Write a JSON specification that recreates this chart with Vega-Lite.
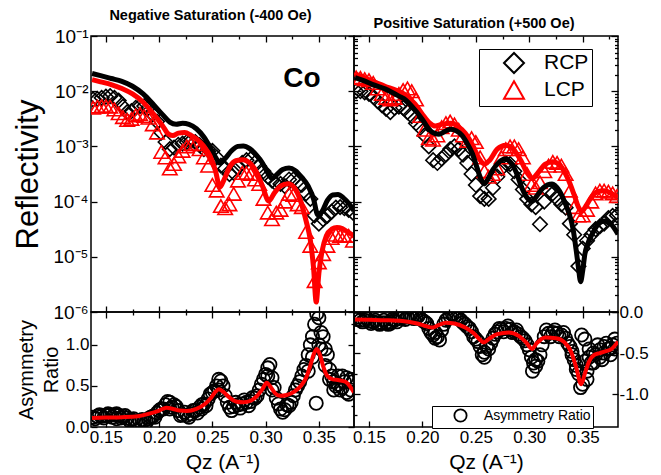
{
"$schema":"https://vega.github.io/schema/vega-lite/v6.json",
"padding":{"left":11,"top":6,"right":5,"bottom":5},
"columns":2,"spacing":0,"bounds":"flush","align":"each",
"resolve":{"scale":{"shape":"independent","stroke":"independent"},"legend":{"shape":"independent","stroke":"independent"}},
"config":{
 "font":"Liberation Sans",
 "view":{"stroke":"black","strokeWidth":1.5},
 "axis":{"domain":false,"grid":false,"tickColor":"black","tickWidth":1.3,"labelColor":"black","titleColor":"black","titleFontWeight":"normal","labelFlush":false,"labelOverlap":false,"labelBound":false},
 "title":{"color":"black"},
 "legend":{"labelColor":"black"}
},
"datasets":{
 "co":[{"q":0.334,"r":0.0166,"t":"Co"}],
 "tl_pts":[
{"q":0.138,"pol":"RCP","r":7.08e-3},{"q":0.142,"pol":"RCP","r":7.24e-3},{"q":0.146,"pol":"RCP","r":7.59e-3},{"q":0.150,"pol":"RCP","r":7.94e-3},{"q":0.154,"pol":"RCP","r":8.13e-3},{"q":0.158,"pol":"RCP","r":7.59e-3},{"q":0.162,"pol":"RCP","r":6.76e-3},{"q":0.166,"pol":"RCP","r":5.25e-3},{"q":0.170,"pol":"RCP","r":4.17e-3},{"q":0.174,"pol":"RCP","r":4.37e-3},{"q":0.178,"pol":"RCP","r":5.01e-3},{"q":0.182,"pol":"RCP","r":5.37e-3},{"q":0.186,"pol":"RCP","r":5.37e-3},{"q":0.190,"pol":"RCP","r":5.01e-3},{"q":0.194,"pol":"RCP","r":3.80e-3},{"q":0.198,"pol":"RCP","r":2.82e-3},{"q":0.202,"pol":"RCP","r":1.78e-3},{"q":0.206,"pol":"RCP","r":1.20e-3},{"q":0.210,"pol":"RCP","r":8.91e-4},{"q":0.214,"pol":"RCP","r":9.55e-4},{"q":0.218,"pol":"RCP","r":1.07e-3},{"q":0.222,"pol":"RCP","r":1.12e-3},{"q":0.226,"pol":"RCP","r":1.20e-3},{"q":0.230,"pol":"RCP","r":1.26e-3},{"q":0.234,"pol":"RCP","r":1.20e-3},{"q":0.238,"pol":"RCP","r":1.05e-3},{"q":0.242,"pol":"RCP","r":8.91e-4},{"q":0.246,"pol":"RCP","r":8.91e-4},{"q":0.250,"pol":"RCP","r":8.32e-4},{"q":0.254,"pol":"RCP","r":6.31e-4},{"q":0.258,"pol":"RCP","r":4.47e-4},{"q":0.262,"pol":"RCP","r":3.98e-4},{"q":0.266,"pol":"RCP","r":3.16e-4},{"q":0.270,"pol":"RCP","r":3.31e-4},{"q":0.274,"pol":"RCP","r":4.17e-4},{"q":0.278,"pol":"RCP","r":5.01e-4},{"q":0.282,"pol":"RCP","r":5.62e-4},{"q":0.286,"pol":"RCP","r":5.89e-4},{"q":0.290,"pol":"RCP","r":5.01e-4},{"q":0.294,"pol":"RCP","r":4.37e-4},{"q":0.298,"pol":"RCP","r":3.55e-4},{"q":0.302,"pol":"RCP","r":2.82e-4},{"q":0.306,"pol":"RCP","r":2.40e-4},{"q":0.310,"pol":"RCP","r":2.09e-4},{"q":0.314,"pol":"RCP","r":2.09e-4},{"q":0.318,"pol":"RCP","r":1.91e-4},{"q":0.322,"pol":"RCP","r":2.51e-4},{"q":0.326,"pol":"RCP","r":2.51e-4},{"q":0.330,"pol":"RCP","r":2.34e-4},{"q":0.334,"pol":"RCP","r":2.00e-4},{"q":0.338,"pol":"RCP","r":1.41e-4},{"q":0.342,"pol":"RCP","r":1.12e-4},{"q":0.346,"pol":"RCP","r":5.62e-5},{"q":0.350,"pol":"RCP","r":3.98e-5},{"q":0.354,"pol":"RCP","r":4.79e-5},{"q":0.358,"pol":"RCP","r":5.50e-5},{"q":0.362,"pol":"RCP","r":6.61e-5},{"q":0.366,"pol":"RCP","r":7.76e-5},{"q":0.370,"pol":"RCP","r":7.94e-5},{"q":0.374,"pol":"RCP","r":7.59e-5},{"q":0.378,"pol":"RCP","r":7.08e-5},{"q":0.382,"pol":"RCP","r":6.31e-5},
{"q":0.138,"pol":"LCP","r":5.01e-3},{"q":0.142,"pol":"LCP","r":5.25e-3},{"q":0.146,"pol":"LCP","r":5.37e-3},{"q":0.150,"pol":"LCP","r":5.37e-3},{"q":0.154,"pol":"LCP","r":5.25e-3},{"q":0.158,"pol":"LCP","r":4.68e-3},{"q":0.162,"pol":"LCP","r":3.98e-3},{"q":0.166,"pol":"LCP","r":3.39e-3},{"q":0.170,"pol":"LCP","r":3.02e-3},{"q":0.174,"pol":"LCP","r":3.16e-3},{"q":0.178,"pol":"LCP","r":3.63e-3},{"q":0.182,"pol":"LCP","r":3.89e-3},{"q":0.186,"pol":"LCP","r":3.55e-3},{"q":0.190,"pol":"LCP","r":3.31e-3},{"q":0.194,"pol":"LCP","r":2.51e-3},{"q":0.198,"pol":"LCP","r":1.78e-3},{"q":0.202,"pol":"LCP","r":7.94e-4},{"q":0.206,"pol":"LCP","r":6.31e-4},{"q":0.210,"pol":"LCP","r":3.98e-4},{"q":0.214,"pol":"LCP","r":4.79e-4},{"q":0.218,"pol":"LCP","r":6.61e-4},{"q":0.222,"pol":"LCP","r":8.32e-4},{"q":0.226,"pol":"LCP","r":1.00e-3},{"q":0.230,"pol":"LCP","r":1.10e-3},{"q":0.234,"pol":"LCP","r":1.10e-3},{"q":0.238,"pol":"LCP","r":8.91e-4},{"q":0.242,"pol":"LCP","r":6.31e-4},{"q":0.246,"pol":"LCP","r":4.47e-4},{"q":0.250,"pol":"LCP","r":2.00e-4},{"q":0.254,"pol":"LCP","r":1.58e-4},{"q":0.258,"pol":"LCP","r":8.32e-5},{"q":0.262,"pol":"LCP","r":7.59e-5},{"q":0.266,"pol":"LCP","r":8.91e-5},{"q":0.270,"pol":"LCP","r":1.38e-4},{"q":0.274,"pol":"LCP","r":2.40e-4},{"q":0.278,"pol":"LCP","r":3.31e-4},{"q":0.282,"pol":"LCP","r":3.31e-4},{"q":0.286,"pol":"LCP","r":3.16e-4},{"q":0.290,"pol":"LCP","r":2.51e-4},{"q":0.294,"pol":"LCP","r":2.09e-4},{"q":0.298,"pol":"LCP","r":1.12e-4},{"q":0.302,"pol":"LCP","r":6.31e-5},{"q":0.306,"pol":"LCP","r":4.79e-5},{"q":0.310,"pol":"LCP","r":6.31e-5},{"q":0.314,"pol":"LCP","r":7.08e-5},{"q":0.318,"pol":"LCP","r":1.00e-4},{"q":0.322,"pol":"LCP","r":1.38e-4},{"q":0.326,"pol":"LCP","r":1.32e-4},{"q":0.330,"pol":"LCP","r":8.91e-5},{"q":0.334,"pol":"LCP","r":7.94e-5},{"q":0.338,"pol":"LCP","r":2.82e-5},{"q":0.342,"pol":"LCP","r":1.58e-5},{"q":0.346,"pol":"LCP","r":3.63e-6},{"q":0.350,"pol":"LCP","r":7.94e-6},{"q":0.354,"pol":"LCP","r":1.12e-5},{"q":0.358,"pol":"LCP","r":1.58e-5},{"q":0.362,"pol":"LCP","r":2.19e-5},{"q":0.366,"pol":"LCP","r":2.51e-5},{"q":0.370,"pol":"LCP","r":2.40e-5},{"q":0.374,"pol":"LCP","r":2.40e-5},{"q":0.378,"pol":"LCP","r":2.40e-5},{"q":0.382,"pol":"LCP","r":1.95e-5}
 ],
 "tl_fit":[
{"q":0.137,"pol":"RCP","r":2.09e-2},{"q":0.145,"pol":"RCP","r":1.91e-2},{"q":0.155,"pol":"RCP","r":1.70e-2},{"q":0.165,"pol":"RCP","r":1.51e-2},{"q":0.175,"pol":"RCP","r":1.23e-2},{"q":0.185,"pol":"RCP","r":8.91e-3},{"q":0.195,"pol":"RCP","r":5.62e-3},{"q":0.203,"pol":"RCP","r":3.80e-3},{"q":0.210,"pol":"RCP","r":2.75e-3},{"q":0.216,"pol":"RCP","r":2.51e-3},{"q":0.222,"pol":"RCP","r":2.63e-3},{"q":0.228,"pol":"RCP","r":2.51e-3},{"q":0.235,"pol":"RCP","r":2.09e-3},{"q":0.242,"pol":"RCP","r":1.48e-3},{"q":0.248,"pol":"RCP","r":9.55e-4},{"q":0.253,"pol":"RCP","r":6.31e-4},{"q":0.257,"pol":"RCP","r":5.01e-4},{"q":0.262,"pol":"RCP","r":6.03e-4},{"q":0.268,"pol":"RCP","r":8.32e-4},{"q":0.274,"pol":"RCP","r":1.00e-3},{"q":0.279,"pol":"RCP","r":1.02e-3},{"q":0.285,"pol":"RCP","r":9.12e-4},{"q":0.291,"pol":"RCP","r":7.08e-4},{"q":0.297,"pol":"RCP","r":5.01e-4},{"q":0.302,"pol":"RCP","r":3.31e-4},{"q":0.306,"pol":"RCP","r":2.63e-4},{"q":0.310,"pol":"RCP","r":3.02e-4},{"q":0.316,"pol":"RCP","r":3.80e-4},{"q":0.322,"pol":"RCP","r":4.07e-4},{"q":0.328,"pol":"RCP","r":3.63e-4},{"q":0.334,"pol":"RCP","r":2.75e-4},{"q":0.340,"pol":"RCP","r":1.91e-4},{"q":0.345,"pol":"RCP","r":1.12e-4},{"q":0.349,"pol":"RCP","r":5.75e-5},{"q":0.353,"pol":"RCP","r":6.61e-5},{"q":0.358,"pol":"RCP","r":1.05e-4},{"q":0.363,"pol":"RCP","r":1.32e-4},{"q":0.368,"pol":"RCP","r":1.35e-4},{"q":0.373,"pol":"RCP","r":1.17e-4},{"q":0.378,"pol":"RCP","r":9.33e-5},{"q":0.383,"pol":"RCP","r":6.76e-5},
{"q":0.137,"pol":"LCP","r":1.62e-2},{"q":0.145,"pol":"LCP","r":1.48e-2},{"q":0.155,"pol":"LCP","r":1.32e-2},{"q":0.165,"pol":"LCP","r":1.12e-2},{"q":0.175,"pol":"LCP","r":8.91e-3},{"q":0.185,"pol":"LCP","r":6.31e-3},{"q":0.195,"pol":"LCP","r":3.80e-3},{"q":0.203,"pol":"LCP","r":2.40e-3},{"q":0.209,"pol":"LCP","r":1.66e-3},{"q":0.213,"pol":"LCP","r":1.58e-3},{"q":0.218,"pol":"LCP","r":1.74e-3},{"q":0.224,"pol":"LCP","r":1.78e-3},{"q":0.230,"pol":"LCP","r":1.58e-3},{"q":0.236,"pol":"LCP","r":1.32e-3},{"q":0.242,"pol":"LCP","r":1.00e-3},{"q":0.248,"pol":"LCP","r":6.61e-4},{"q":0.253,"pol":"LCP","r":3.55e-4},{"q":0.257,"pol":"LCP","r":1.82e-4},{"q":0.261,"pol":"LCP","r":2.51e-4},{"q":0.266,"pol":"LCP","r":4.17e-4},{"q":0.272,"pol":"LCP","r":5.50e-4},{"q":0.279,"pol":"LCP","r":5.75e-4},{"q":0.285,"pol":"LCP","r":5.01e-4},{"q":0.291,"pol":"LCP","r":3.55e-4},{"q":0.297,"pol":"LCP","r":1.91e-4},{"q":0.303,"pol":"LCP","r":1.02e-4},{"q":0.308,"pol":"LCP","r":1.41e-4},{"q":0.314,"pol":"LCP","r":1.91e-4},{"q":0.321,"pol":"LCP","r":2.11e-4},{"q":0.327,"pol":"LCP","r":1.78e-4},{"q":0.333,"pol":"LCP","r":1.00e-4},{"q":0.338,"pol":"LCP","r":4.47e-5},{"q":0.342,"pol":"LCP","r":2.00e-5},{"q":0.345,"pol":"LCP","r":6.31e-6},{"q":0.3475,"pol":"LCP","r":1.51e-6},{"q":0.350,"pol":"LCP","r":5.01e-6},{"q":0.353,"pol":"LCP","r":1.26e-5},{"q":0.357,"pol":"LCP","r":2.40e-5},{"q":0.362,"pol":"LCP","r":3.16e-5},{"q":0.367,"pol":"LCP","r":3.39e-5},{"q":0.372,"pol":"LCP","r":3.24e-5},{"q":0.377,"pol":"LCP","r":2.82e-5},{"q":0.383,"pol":"LCP","r":2.40e-5}
 ],
 "tr_pts":[
{"q":0.138,"pol":"RCP","r":1.00e-2},{"q":0.142,"pol":"RCP","r":1.00e-2},{"q":0.146,"pol":"RCP","r":9.55e-3},{"q":0.150,"pol":"RCP","r":8.91e-3},{"q":0.154,"pol":"RCP","r":7.94e-3},{"q":0.158,"pol":"RCP","r":6.61e-3},{"q":0.162,"pol":"RCP","r":5.62e-3},{"q":0.166,"pol":"RCP","r":4.79e-3},{"q":0.170,"pol":"RCP","r":4.17e-3},{"q":0.174,"pol":"RCP","r":5.01e-3},{"q":0.178,"pol":"RCP","r":5.25e-3},{"q":0.182,"pol":"RCP","r":5.01e-3},{"q":0.186,"pol":"RCP","r":4.17e-3},{"q":0.190,"pol":"RCP","r":3.55e-3},{"q":0.194,"pol":"RCP","r":2.63e-3},{"q":0.198,"pol":"RCP","r":2.19e-3},{"q":0.202,"pol":"RCP","r":1.58e-3},{"q":0.206,"pol":"RCP","r":1.00e-3},{"q":0.210,"pol":"RCP","r":5.62e-4},{"q":0.214,"pol":"RCP","r":5.01e-4},{"q":0.218,"pol":"RCP","r":6.03e-4},{"q":0.222,"pol":"RCP","r":7.08e-4},{"q":0.226,"pol":"RCP","r":8.91e-4},{"q":0.230,"pol":"RCP","r":1.00e-3},{"q":0.234,"pol":"RCP","r":8.91e-4},{"q":0.238,"pol":"RCP","r":7.08e-4},{"q":0.242,"pol":"RCP","r":5.01e-4},{"q":0.246,"pol":"RCP","r":3.16e-4},{"q":0.250,"pol":"RCP","r":2.00e-4},{"q":0.254,"pol":"RCP","r":1.26e-4},{"q":0.258,"pol":"RCP","r":1.12e-4},{"q":0.262,"pol":"RCP","r":1.12e-4},{"q":0.266,"pol":"RCP","r":1.78e-4},{"q":0.270,"pol":"RCP","r":2.82e-4},{"q":0.274,"pol":"RCP","r":3.98e-4},{"q":0.278,"pol":"RCP","r":5.01e-4},{"q":0.282,"pol":"RCP","r":4.79e-4},{"q":0.286,"pol":"RCP","r":3.55e-4},{"q":0.290,"pol":"RCP","r":2.51e-4},{"q":0.294,"pol":"RCP","r":1.66e-4},{"q":0.298,"pol":"RCP","r":1.12e-4},{"q":0.302,"pol":"RCP","r":8.91e-5},{"q":0.306,"pol":"RCP","r":7.94e-5},{"q":0.310,"pol":"RCP","r":3.89e-5},{"q":0.314,"pol":"RCP","r":1.00e-4},{"q":0.318,"pol":"RCP","r":1.55e-4},{"q":0.322,"pol":"RCP","r":1.41e-4},{"q":0.326,"pol":"RCP","r":1.12e-4},{"q":0.330,"pol":"RCP","r":8.91e-5},{"q":0.334,"pol":"RCP","r":7.76e-5},{"q":0.338,"pol":"RCP","r":3.98e-5},{"q":0.342,"pol":"RCP","r":2.51e-5},{"q":0.346,"pol":"RCP","r":6.76e-6},{"q":0.350,"pol":"RCP","r":1.41e-5},{"q":0.354,"pol":"RCP","r":1.95e-5},{"q":0.358,"pol":"RCP","r":2.51e-5},{"q":0.362,"pol":"RCP","r":3.16e-5},{"q":0.366,"pol":"RCP","r":3.55e-5},{"q":0.370,"pol":"RCP","r":3.98e-5},{"q":0.374,"pol":"RCP","r":5.01e-5},{"q":0.378,"pol":"RCP","r":5.50e-5},{"q":0.382,"pol":"RCP","r":5.62e-5},
{"q":0.138,"pol":"LCP","r":1.78e-2},{"q":0.142,"pol":"LCP","r":1.74e-2},{"q":0.146,"pol":"LCP","r":1.66e-2},{"q":0.150,"pol":"LCP","r":1.58e-2},{"q":0.154,"pol":"LCP","r":1.41e-2},{"q":0.158,"pol":"LCP","r":1.12e-2},{"q":0.162,"pol":"LCP","r":8.91e-3},{"q":0.166,"pol":"LCP","r":7.59e-3},{"q":0.170,"pol":"LCP","r":7.08e-3},{"q":0.174,"pol":"LCP","r":7.59e-3},{"q":0.178,"pol":"LCP","r":8.91e-3},{"q":0.182,"pol":"LCP","r":1.05e-2},{"q":0.186,"pol":"LCP","r":1.12e-2},{"q":0.190,"pol":"LCP","r":1.00e-2},{"q":0.194,"pol":"LCP","r":7.08e-3},{"q":0.198,"pol":"LCP","r":3.55e-3},{"q":0.202,"pol":"LCP","r":2.00e-3},{"q":0.206,"pol":"LCP","r":1.41e-3},{"q":0.210,"pol":"LCP","r":1.32e-3},{"q":0.214,"pol":"LCP","r":1.58e-3},{"q":0.218,"pol":"LCP","r":2.24e-3},{"q":0.222,"pol":"LCP","r":2.63e-3},{"q":0.226,"pol":"LCP","r":2.82e-3},{"q":0.230,"pol":"LCP","r":2.51e-3},{"q":0.234,"pol":"LCP","r":2.00e-3},{"q":0.238,"pol":"LCP","r":1.58e-3},{"q":0.242,"pol":"LCP","r":1.26e-3},{"q":0.246,"pol":"LCP","r":1.41e-3},{"q":0.250,"pol":"LCP","r":1.20e-3},{"q":0.254,"pol":"LCP","r":6.31e-4},{"q":0.258,"pol":"LCP","r":3.55e-4},{"q":0.262,"pol":"LCP","r":2.82e-4},{"q":0.266,"pol":"LCP","r":3.16e-4},{"q":0.270,"pol":"LCP","r":3.98e-4},{"q":0.274,"pol":"LCP","r":6.31e-4},{"q":0.278,"pol":"LCP","r":8.91e-4},{"q":0.282,"pol":"LCP","r":1.00e-3},{"q":0.286,"pol":"LCP","r":1.00e-3},{"q":0.290,"pol":"LCP","r":8.91e-4},{"q":0.294,"pol":"LCP","r":6.31e-4},{"q":0.298,"pol":"LCP","r":3.16e-4},{"q":0.302,"pol":"LCP","r":2.00e-4},{"q":0.306,"pol":"LCP","r":1.78e-4},{"q":0.310,"pol":"LCP","r":2.24e-4},{"q":0.314,"pol":"LCP","r":3.55e-4},{"q":0.318,"pol":"LCP","r":4.47e-4},{"q":0.322,"pol":"LCP","r":5.25e-4},{"q":0.326,"pol":"LCP","r":5.01e-4},{"q":0.330,"pol":"LCP","r":4.47e-4},{"q":0.334,"pol":"LCP","r":3.16e-4},{"q":0.338,"pol":"LCP","r":1.58e-4},{"q":0.342,"pol":"LCP","r":7.94e-5},{"q":0.346,"pol":"LCP","r":5.62e-5},{"q":0.350,"pol":"LCP","r":5.62e-5},{"q":0.354,"pol":"LCP","r":7.08e-5},{"q":0.358,"pol":"LCP","r":1.00e-4},{"q":0.362,"pol":"LCP","r":1.41e-4},{"q":0.366,"pol":"LCP","r":1.58e-4},{"q":0.370,"pol":"LCP","r":1.58e-4},{"q":0.374,"pol":"LCP","r":1.51e-4},{"q":0.378,"pol":"LCP","r":1.41e-4},{"q":0.382,"pol":"LCP","r":1.26e-4}
 ],
 "tr_fit":[
{"q":0.137,"pol":"RCP","r":1.76e-2},{"q":0.145,"pol":"RCP","r":1.55e-2},{"q":0.153,"pol":"RCP","r":1.33e-2},{"q":0.165,"pol":"RCP","r":1.10e-2},{"q":0.178,"pol":"RCP","r":8.13e-3},{"q":0.185,"pol":"RCP","r":6.76e-3},{"q":0.190,"pol":"RCP","r":5.37e-3},{"q":0.1996,"pol":"RCP","r":3.16e-3},{"q":0.205,"pol":"RCP","r":2.19e-3},{"q":0.209,"pol":"RCP","r":1.82e-3},{"q":0.2155,"pol":"RCP","r":1.66e-3},{"q":0.221,"pol":"RCP","r":1.86e-3},{"q":0.226,"pol":"RCP","r":2.04e-3},{"q":0.232,"pol":"RCP","r":1.91e-3},{"q":0.237,"pol":"RCP","r":1.58e-3},{"q":0.242,"pol":"RCP","r":1.12e-3},{"q":0.2465,"pol":"RCP","r":7.59e-4},{"q":0.251,"pol":"RCP","r":4.17e-4},{"q":0.2545,"pol":"RCP","r":2.63e-4},{"q":0.258,"pol":"RCP","r":2.09e-4},{"q":0.261,"pol":"RCP","r":2.51e-4},{"q":0.266,"pol":"RCP","r":3.80e-4},{"q":0.271,"pol":"RCP","r":5.01e-4},{"q":0.277,"pol":"RCP","r":5.89e-4},{"q":0.283,"pol":"RCP","r":5.01e-4},{"q":0.288,"pol":"RCP","r":3.31e-4},{"q":0.293,"pol":"RCP","r":1.78e-4},{"q":0.298,"pol":"RCP","r":1.17e-4},{"q":0.3026,"pol":"RCP","r":1.02e-4},{"q":0.307,"pol":"RCP","r":1.26e-4},{"q":0.313,"pol":"RCP","r":1.78e-4},{"q":0.3213,"pol":"RCP","r":2.09e-4},{"q":0.328,"pol":"RCP","r":1.58e-4},{"q":0.334,"pol":"RCP","r":8.91e-5},{"q":0.3373,"pol":"RCP","r":6.03e-5},{"q":0.341,"pol":"RCP","r":3.16e-5},{"q":0.344,"pol":"RCP","r":1.26e-5},{"q":0.346,"pol":"RCP","r":6.31e-6},{"q":0.348,"pol":"RCP","r":3.55e-6},{"q":0.350,"pol":"RCP","r":5.62e-6},{"q":0.352,"pol":"RCP","r":1.12e-5},{"q":0.355,"pol":"RCP","r":1.78e-5},{"q":0.3588,"pol":"RCP","r":2.57e-5},{"q":0.364,"pol":"RCP","r":3.80e-5},{"q":0.370,"pol":"RCP","r":4.47e-5},{"q":0.376,"pol":"RCP","r":3.98e-5},{"q":0.383,"pol":"RCP","r":2.57e-5},
{"q":0.137,"pol":"LCP","r":2.04e-2},{"q":0.145,"pol":"LCP","r":1.78e-2},{"q":0.153,"pol":"LCP","r":1.53e-2},{"q":0.165,"pol":"LCP","r":1.23e-2},{"q":0.175,"pol":"LCP","r":1.05e-2},{"q":0.183,"pol":"LCP","r":8.91e-3},{"q":0.193,"pol":"LCP","r":5.89e-3},{"q":0.202,"pol":"LCP","r":3.39e-3},{"q":0.207,"pol":"LCP","r":2.63e-3},{"q":0.212,"pol":"LCP","r":2.34e-3},{"q":0.218,"pol":"LCP","r":2.51e-3},{"q":0.227,"pol":"LCP","r":2.63e-3},{"q":0.234,"pol":"LCP","r":2.24e-3},{"q":0.240,"pol":"LCP","r":1.74e-3},{"q":0.247,"pol":"LCP","r":1.05e-3},{"q":0.253,"pol":"LCP","r":6.03e-4},{"q":0.258,"pol":"LCP","r":4.79e-4},{"q":0.263,"pol":"LCP","r":5.62e-4},{"q":0.270,"pol":"LCP","r":8.91e-4},{"q":0.278,"pol":"LCP","r":1.05e-3},{"q":0.285,"pol":"LCP","r":8.91e-4},{"q":0.292,"pol":"LCP","r":5.62e-4},{"q":0.298,"pol":"LCP","r":3.31e-4},{"q":0.303,"pol":"LCP","r":2.63e-4},{"q":0.308,"pol":"LCP","r":3.31e-4},{"q":0.315,"pol":"LCP","r":4.79e-4},{"q":0.322,"pol":"LCP","r":5.25e-4},{"q":0.329,"pol":"LCP","r":4.47e-4},{"q":0.336,"pol":"LCP","r":2.63e-4},{"q":0.342,"pol":"LCP","r":1.32e-4},{"q":0.346,"pol":"LCP","r":7.94e-5},{"q":0.349,"pol":"LCP","r":6.61e-5},{"q":0.353,"pol":"LCP","r":8.32e-5},{"q":0.358,"pol":"LCP","r":1.20e-4},{"q":0.364,"pol":"LCP","r":1.51e-4},{"q":0.370,"pol":"LCP","r":1.58e-4},{"q":0.377,"pol":"LCP","r":1.41e-4},{"q":0.383,"pol":"LCP","r":1.17e-4}
 ],
 "bl_pts":[
{"q":0.138,"a":0.12},{"q":0.142,"a":0.13},{"q":0.146,"a":0.13},{"q":0.150,"a":0.14},{"q":0.154,"a":0.15},{"q":0.158,"a":0.15},{"q":0.162,"a":0.14},{"q":0.166,"a":0.13},{"q":0.170,"a":0.11},{"q":0.174,"a":0.09},{"q":0.178,"a":0.07},{"q":0.182,"a":0.07},{"q":0.186,"a":0.08},{"q":0.190,"a":0.10},{"q":0.194,"a":0.13},{"q":0.198,"a":0.17},{"q":0.202,"a":0.22},{"q":0.206,"a":0.27},{"q":0.210,"a":0.30},{"q":0.214,"a":0.27},{"q":0.218,"a":0.20},{"q":0.222,"a":0.15},{"q":0.226,"a":0.14},{"q":0.230,"a":0.16},{"q":0.234,"a":0.20},{"q":0.238,"a":0.24},{"q":0.242,"a":0.28},{"q":0.246,"a":0.34},{"q":0.250,"a":0.42},{"q":0.254,"a":0.50},{"q":0.258,"a":0.56},{"q":0.262,"a":0.38},{"q":0.266,"a":0.24},{"q":0.270,"a":0.25},{"q":0.274,"a":0.27},{"q":0.278,"a":0.28},{"q":0.282,"a":0.30},{"q":0.286,"a":0.31},{"q":0.290,"a":0.35},{"q":0.294,"a":0.45},{"q":0.298,"a":0.58},{"q":0.302,"a":0.72},{"q":0.306,"a":0.60},{"q":0.310,"a":0.35},{"q":0.314,"a":0.22},{"q":0.318,"a":0.21},{"q":0.322,"a":0.26},{"q":0.326,"a":0.38},{"q":0.330,"a":0.50},{"q":0.334,"a":0.62},{"q":0.338,"a":0.75},{"q":0.342,"a":1.00},{"q":0.346,"a":1.25},{"q":0.350,"a":1.33},{"q":0.354,"a":1.10},{"q":0.358,"a":0.88},{"q":0.362,"a":0.62},{"q":0.366,"a":0.50},{"q":0.370,"a":0.45},{"q":0.374,"a":0.55},{"q":0.378,"a":0.40},{"q":0.382,"a":0.55},
{"q":0.140,"a":0.10},{"q":0.144,"a":0.15},{"q":0.148,"a":0.11},{"q":0.152,"a":0.16},{"q":0.156,"a":0.12},{"q":0.160,"a":0.16},{"q":0.164,"a":0.11},{"q":0.168,"a":0.14},{"q":0.172,"a":0.08},{"q":0.176,"a":0.10},{"q":0.180,"a":0.05},{"q":0.184,"a":0.09},{"q":0.188,"a":0.06},{"q":0.192,"a":0.12},{"q":0.196,"a":0.12},{"q":0.200,"a":0.20},{"q":0.204,"a":0.22},{"q":0.208,"a":0.31},{"q":0.212,"a":0.24},{"q":0.216,"a":0.25},{"q":0.220,"a":0.14},{"q":0.224,"a":0.18},{"q":0.228,"a":0.12},{"q":0.232,"a":0.20},{"q":0.236,"a":0.17},{"q":0.240,"a":0.27},{"q":0.244,"a":0.26},{"q":0.248,"a":0.40},{"q":0.252,"a":0.44},{"q":0.256,"a":0.58},{"q":0.260,"a":0.50},{"q":0.264,"a":0.30},{"q":0.268,"a":0.20},{"q":0.272,"a":0.30},{"q":0.276,"a":0.23},{"q":0.280,"a":0.33},{"q":0.284,"a":0.26},{"q":0.288,"a":0.36},{"q":0.292,"a":0.38},{"q":0.296,"a":0.52},{"q":0.300,"a":0.64},{"q":0.304,"a":0.76},{"q":0.308,"a":0.48},{"q":0.312,"a":0.28},{"q":0.316,"a":0.18},{"q":0.320,"a":0.27},{"q":0.324,"a":0.30},{"q":0.328,"a":0.45},{"q":0.332,"a":0.55},{"q":0.336,"a":0.70},{"q":0.340,"a":0.88},{"q":0.344,"a":1.10},{"q":0.348,"a":1.38},{"q":0.352,"a":0.95},{"q":0.356,"a":0.75},{"q":0.360,"a":0.58},{"q":0.364,"a":0.45},{"q":0.368,"a":0.52},{"q":0.372,"a":0.62},{"q":0.376,"a":0.42},{"q":0.380,"a":0.58},
{"q":0.3475,"a":0.29},{"q":0.350,"a":1.00},{"q":0.352,"a":1.15},{"q":0.356,"a":0.95},{"q":0.360,"a":0.70},{"q":0.364,"a":0.55},{"q":0.368,"a":0.62},{"q":0.372,"a":0.48},{"q":0.376,"a":0.60},{"q":0.380,"a":0.45},{"q":0.344,"a":0.85},{"q":0.340,"a":0.68},{"q":0.256,"a":0.45},{"q":0.302,"a":0.62},{"q":0.306,"a":0.45},{"q":0.210,"a":0.22},{"q":0.160,"a":0.10},{"q":0.240,"a":0.22}
 ],
 "bl_fit":[
{"q":0.137,"a":0.11},{"q":0.150,"a":0.115},{"q":0.165,"a":0.12},{"q":0.180,"a":0.13},{"q":0.190,"a":0.16},{"q":0.200,"a":0.20},{"q":0.207,"a":0.235},{"q":0.213,"a":0.22},{"q":0.219,"a":0.20},{"q":0.226,"a":0.195},{"q":0.235,"a":0.22},{"q":0.243,"a":0.28},{"q":0.249,"a":0.36},{"q":0.253,"a":0.43},{"q":0.256,"a":0.46},{"q":0.260,"a":0.43},{"q":0.266,"a":0.36},{"q":0.272,"a":0.31},{"q":0.279,"a":0.30},{"q":0.286,"a":0.32},{"q":0.292,"a":0.38},{"q":0.297,"a":0.46},{"q":0.301,"a":0.54},{"q":0.305,"a":0.48},{"q":0.309,"a":0.41},{"q":0.3135,"a":0.38},{"q":0.320,"a":0.39},{"q":0.327,"a":0.43},{"q":0.333,"a":0.50},{"q":0.338,"a":0.60},{"q":0.342,"a":0.75},{"q":0.345,"a":0.88},{"q":0.348,"a":0.95},{"q":0.351,"a":0.88},{"q":0.354,"a":0.74},{"q":0.358,"a":0.62},{"q":0.363,"a":0.58},{"q":0.369,"a":0.57},{"q":0.375,"a":0.55},{"q":0.379,"a":0.50},{"q":0.383,"a":0.42}
 ],
 "br_pts":[
{"q":0.138,"a":-0.09},{"q":0.142,"a":-0.10},{"q":0.146,"a":-0.10},{"q":0.150,"a":-0.11},{"q":0.154,"a":-0.12},{"q":0.158,"a":-0.13},{"q":0.162,"a":-0.13},{"q":0.166,"a":-0.13},{"q":0.170,"a":-0.12},{"q":0.174,"a":-0.10},{"q":0.178,"a":-0.08},{"q":0.182,"a":-0.07},{"q":0.186,"a":-0.06},{"q":0.190,"a":-0.06},{"q":0.194,"a":-0.07},{"q":0.198,"a":-0.08},{"q":0.202,"a":-0.12},{"q":0.206,"a":-0.20},{"q":0.210,"a":-0.28},{"q":0.214,"a":-0.30},{"q":0.218,"a":-0.22},{"q":0.222,"a":-0.10},{"q":0.226,"a":-0.05},{"q":0.230,"a":-0.05},{"q":0.234,"a":-0.08},{"q":0.238,"a":-0.13},{"q":0.242,"a":-0.18},{"q":0.246,"a":-0.24},{"q":0.250,"a":-0.33},{"q":0.254,"a":-0.42},{"q":0.258,"a":-0.49},{"q":0.262,"a":-0.45},{"q":0.266,"a":-0.32},{"q":0.270,"a":-0.24},{"q":0.274,"a":-0.21},{"q":0.278,"a":-0.20},{"q":0.282,"a":-0.21},{"q":0.286,"a":-0.24},{"q":0.290,"a":-0.27},{"q":0.294,"a":-0.32},{"q":0.298,"a":-0.40},{"q":0.302,"a":-0.55},{"q":0.306,"a":-0.66},{"q":0.310,"a":-0.52},{"q":0.314,"a":-0.30},{"q":0.318,"a":-0.26},{"q":0.322,"a":-0.25},{"q":0.326,"a":-0.26},{"q":0.330,"a":-0.28},{"q":0.334,"a":-0.32},{"q":0.338,"a":-0.42},{"q":0.342,"a":-0.58},{"q":0.346,"a":-0.75},{"q":0.350,"a":-0.88},{"q":0.354,"a":-0.82},{"q":0.358,"a":-0.62},{"q":0.362,"a":-0.52},{"q":0.366,"a":-0.46},{"q":0.370,"a":-0.42},{"q":0.374,"a":-0.45},{"q":0.378,"a":-0.40},{"q":0.382,"a":-0.38},
{"q":0.140,"a":-0.06},{"q":0.144,"a":-0.12},{"q":0.148,"a":-0.08},{"q":0.152,"a":-0.14},{"q":0.156,"a":-0.10},{"q":0.160,"a":-0.15},{"q":0.164,"a":-0.10},{"q":0.168,"a":-0.15},{"q":0.172,"a":-0.09},{"q":0.176,"a":-0.12},{"q":0.180,"a":-0.05},{"q":0.184,"a":-0.09},{"q":0.188,"a":-0.04},{"q":0.192,"a":-0.08},{"q":0.196,"a":-0.05},{"q":0.200,"a":-0.10},{"q":0.204,"a":-0.14},{"q":0.208,"a":-0.25},{"q":0.212,"a":-0.25},{"q":0.216,"a":-0.34},{"q":0.220,"a":-0.15},{"q":0.224,"a":-0.08},{"q":0.228,"a":-0.02},{"q":0.232,"a":-0.07},{"q":0.236,"a":-0.10},{"q":0.240,"a":-0.15},{"q":0.244,"a":-0.20},{"q":0.248,"a":-0.30},{"q":0.252,"a":-0.36},{"q":0.256,"a":-0.52},{"q":0.260,"a":-0.42},{"q":0.264,"a":-0.38},{"q":0.268,"a":-0.27},{"q":0.272,"a":-0.20},{"q":0.276,"a":-0.24},{"q":0.280,"a":-0.17},{"q":0.284,"a":-0.25},{"q":0.288,"a":-0.22},{"q":0.292,"a":-0.30},{"q":0.296,"a":-0.35},{"q":0.300,"a":-0.46},{"q":0.304,"a":-0.62},{"q":0.308,"a":-0.60},{"q":0.312,"a":-0.40},{"q":0.316,"a":-0.22},{"q":0.320,"a":-0.30},{"q":0.324,"a":-0.22},{"q":0.328,"a":-0.30},{"q":0.332,"a":-0.25},{"q":0.336,"a":-0.38},{"q":0.340,"a":-0.52},{"q":0.344,"a":-0.70},{"q":0.348,"a":-0.92},{"q":0.352,"a":-0.60},{"q":0.356,"a":-0.45},{"q":0.360,"a":-0.50},{"q":0.364,"a":-0.40},{"q":0.368,"a":-0.58},{"q":0.372,"a":-0.38},{"q":0.376,"a":-0.44},{"q":0.380,"a":-0.33},
{"q":0.349,"a":-0.28},{"q":0.352,"a":-0.33},{"q":0.306,"a":-0.58},{"q":0.303,"a":-0.72},{"q":0.356,"a":-0.55},{"q":0.360,"a":-0.62},{"q":0.366,"a":-0.55},{"q":0.370,"a":-0.50},{"q":0.376,"a":-0.52},{"q":0.380,"a":-0.45},{"q":0.344,"a":-0.65},{"q":0.340,"a":-0.48},{"q":0.258,"a":-0.55},{"q":0.354,"a":-0.72},{"q":0.212,"a":-0.32},{"q":0.170,"a":-0.14}
 ],
 "br_fit":[
{"q":0.137,"a":-0.09},{"q":0.150,"a":-0.095},{"q":0.165,"a":-0.10},{"q":0.181,"a":-0.11},{"q":0.195,"a":-0.14},{"q":0.203,"a":-0.17},{"q":0.209,"a":-0.19},{"q":0.215,"a":-0.16},{"q":0.222,"a":-0.13},{"q":0.230,"a":-0.14},{"q":0.240,"a":-0.19},{"q":0.248,"a":-0.26},{"q":0.254,"a":-0.34},{"q":0.2575,"a":-0.37},{"q":0.262,"a":-0.33},{"q":0.270,"a":-0.27},{"q":0.281,"a":-0.25},{"q":0.290,"a":-0.29},{"q":0.297,"a":-0.37},{"q":0.3026,"a":-0.45},{"q":0.307,"a":-0.38},{"q":0.315,"a":-0.31},{"q":0.325,"a":-0.32},{"q":0.333,"a":-0.37},{"q":0.339,"a":-0.48},{"q":0.344,"a":-0.68},{"q":0.3485,"a":-0.88},{"q":0.352,"a":-0.75},{"q":0.356,"a":-0.60},{"q":0.361,"a":-0.52},{"q":0.366,"a":-0.50},{"q":0.371,"a":-0.48},{"q":0.377,"a":-0.45},{"q":0.383,"a":-0.36}
 ]
},
"concat":[
 {
  "width":263,"height":276,
  "title":{"text":"Negative Saturation (-400 Oe)","fontSize":14.5,"fontWeight":"bold","anchor":"middle","dx":-12,"offset":-7,"baseline":"alphabetic","frame":"group"},
  "layer":[
   {"data":{"name":"tl_pts"},"mark":{"type":"point","filled":false,"opacity":1,"size":210,"strokeWidth":1.6,"clip":true},
    "encoding":{
     "x":{"field":"q","type":"quantitative","scale":{"domain":[0.136,0.383],"nice":false,"zero":false},"axis":{"orient":"bottom","values":[0.15,0.175,0.2,0.225,0.25,0.275,0.3,0.325,0.35,0.375],"labels":false,"title":null,"tickSize":{"condition":{"test":"abs(datum.value*20-round(datum.value*20))<0.001","value":-6},"value":-3}}},
     "y":{"field":"r","type":"quantitative","scale":{"type":"log","domain":[0.000001,0.1],"nice":false},"axis":{"orient":"left","values":[0.1,0.01,0.001,0.0001,0.00001,0.000001],"labelExpr":"'10' + ['⁻¹','⁻²','⁻³','⁻⁴','⁻⁵','⁻⁶'][round(-log(datum.value)/LN10)-1]","labelFontSize":19,"labelPadding":9,"tickSize":-6,"title":"Reflectivity","titleFontSize":31,"titlePadding":8}},
     "shape":{"field":"pol","type":"nominal","scale":{"domain":["RCP","LCP"],"range":["diamond","triangle-up"]},"legend":null},
     "stroke":{"field":"pol","type":"nominal","scale":{"domain":["RCP","LCP"],"range":["black","red"]},"legend":null}
    }},
   {"data":{"name":"tl_fit"},"transform":[{"filter":"datum.pol == 'RCP'"}],"mark":{"type":"line","color":"black","strokeWidth":5,"interpolate":"monotone","clip":true},
    "encoding":{
     "x":{"field":"q","type":"quantitative","axis":{"orient":"top","values":[0.15,0.175,0.2,0.225,0.25,0.275,0.3,0.325,0.35,0.375],"labels":false,"title":null,"tickSize":{"condition":{"test":"abs(datum.value*20-round(datum.value*20))<0.001","value":-6},"value":-3}}},
     "y":{"field":"r","type":"quantitative","axis":{"orient":"right","values":[0.1,0.01,0.001,0.0001,0.00001,0.000001],"labels":false,"title":null,"tickSize":-6}}
    }},
   {"data":{"name":"tl_fit"},"transform":[{"filter":"datum.pol == 'LCP'"}],"mark":{"type":"line","color":"red","strokeWidth":5,"interpolate":"monotone","clip":true},
    "encoding":{"x":{"field":"q","type":"quantitative","axis":null},"y":{"field":"r","type":"quantitative","axis":null}}},
   {"data":{"name":"co"},"mark":{"type":"text","fontSize":28,"fontWeight":"bold","color":"black","baseline":"middle","align":"center"},
    "encoding":{"x":{"field":"q","type":"quantitative","axis":null},"y":{"field":"r","type":"quantitative","axis":null},"text":{"field":"t"}}}
  ],
  "resolve":{"axis":{"x":"independent","y":"independent"}}
 },
 {
  "width":264,"height":276,
  "title":{"text":"Positive Saturation (+500 Oe)","fontSize":14.5,"fontWeight":"bold","anchor":"middle","dx":-12,"offset":-7,"baseline":"alphabetic","frame":"group"},
  "layer":[
   {"data":{"name":"tr_pts"},"mark":{"type":"point","filled":false,"opacity":1,"size":210,"strokeWidth":1.6,"clip":true},
    "encoding":{
     "x":{"field":"q","type":"quantitative","scale":{"domain":[0.136,0.383],"nice":false,"zero":false},"axis":{"orient":"bottom","values":[0.15,0.175,0.2,0.225,0.25,0.275,0.3,0.325,0.35,0.375],"labels":false,"title":null,"tickSize":{"condition":{"test":"abs(datum.value*20-round(datum.value*20))<0.001","value":-6},"value":-3}}},
     "y":{"field":"r","type":"quantitative","scale":{"type":"log","domain":[0.000001,0.1],"nice":false},"axis":{"orient":"left","values":[0.000001,0.000002,0.000003,0.000004,0.000005,0.000006,0.000007,0.000008,0.000009,0.00001,0.00002,0.00003,0.00004,0.00005,0.00006,0.00007,0.00008,0.00009,0.0001,0.0002,0.0003,0.0004,0.0005,0.0006,0.0007,0.0008,0.0009,0.001,0.002,0.003,0.004,0.005,0.006,0.007,0.008,0.009,0.01,0.02,0.03,0.04,0.05,0.06,0.07,0.08,0.09,0.1],"labels":false,"title":null,"tickSize":{"condition":{"test":"abs(log(datum.value)/LN10-round(log(datum.value)/LN10))<0.01","value":-7},"value":-3.5}}},
     "shape":{"field":"pol","type":"nominal","scale":{"domain":["RCP","LCP"],"range":["diamond","triangle-up"]},"legend":{"orient":"none","legendX":125,"legendY":13,"title":null,"strokeColor":"black","fillColor":"white","padding":3,"rowPadding":0,"symbolSize":400,"symbolStrokeWidth":2,"symbolOffset":21,"labelOffset":19,"labelFontSize":21,"labelColor":"black"}},
     "stroke":{"field":"pol","type":"nominal","scale":{"domain":["RCP","LCP"],"range":["black","red"]},"legend":{"orient":"none","legendX":125,"legendY":13,"title":null,"strokeColor":"black","fillColor":"white","padding":3,"rowPadding":0,"symbolSize":400,"symbolStrokeWidth":2,"symbolOffset":21,"labelOffset":19,"labelFontSize":21,"labelColor":"black"}}
    }},
   {"data":{"name":"tr_fit"},"transform":[{"filter":"datum.pol == 'LCP'"}],"mark":{"type":"line","color":"red","strokeWidth":5,"interpolate":"monotone","clip":true},
    "encoding":{
     "x":{"field":"q","type":"quantitative","axis":{"orient":"top","values":[0.15,0.175,0.2,0.225,0.25,0.275,0.3,0.325,0.35,0.375],"labels":false,"title":null,"tickSize":{"condition":{"test":"abs(datum.value*20-round(datum.value*20))<0.001","value":-6},"value":-3}}},
     "y":{"field":"r","type":"quantitative","axis":{"orient":"right","values":[0.000001,0.000002,0.000003,0.000004,0.000005,0.000006,0.000007,0.000008,0.000009,0.00001,0.00002,0.00003,0.00004,0.00005,0.00006,0.00007,0.00008,0.00009,0.0001,0.0002,0.0003,0.0004,0.0005,0.0006,0.0007,0.0008,0.0009,0.001,0.002,0.003,0.004,0.005,0.006,0.007,0.008,0.009,0.01,0.02,0.03,0.04,0.05,0.06,0.07,0.08,0.09,0.1],"labels":false,"title":null,"tickSize":{"condition":{"test":"abs(log(datum.value)/LN10-round(log(datum.value)/LN10))<0.01","value":-7},"value":-3.5}}}
    }},
   {"data":{"name":"tr_fit"},"transform":[{"filter":"datum.pol == 'RCP'"}],"mark":{"type":"line","color":"black","strokeWidth":5,"interpolate":"monotone","clip":true},
    "encoding":{"x":{"field":"q","type":"quantitative","axis":null},"y":{"field":"r","type":"quantitative","axis":null}}}
  ],
  "resolve":{"axis":{"x":"independent","y":"independent"}}
 },
 {
  "width":263,"height":115,
  "layer":[
   {"data":{"name":"bl_pts"},"mark":{"type":"point","filled":false,"opacity":1,"size":175,"strokeWidth":1.8,"color":"black","clip":true},
    "encoding":{
     "x":{"field":"q","type":"quantitative","scale":{"domain":[0.136,0.383],"nice":false,"zero":false},"axis":{"orient":"bottom","values":[0.15,0.2,0.25,0.3,0.35],"format":".2f","labelFontSize":17,"labelPadding":8,"tickSize":-6,"title":"Qz (A⁻¹)","titleFontSize":21,"titlePadding":6}},
     "y":{"field":"a","type":"quantitative","scale":{"domain":[0,1.4],"nice":false,"zero":false},"axis":{"orient":"left","values":[0,0.5,1],"format":".1f","labelFontSize":17,"labelPadding":8,"tickSize":-6,"title":["Asymmetry","Ratio"],"titleFontSize":20,"titleLineHeight":25,"titlePadding":4}},
     "shape":{"datum":"Asymmetry Ratio","type":"nominal","scale":{"range":["circle"]},"legend":null}
    }},
   {"data":{"name":"bl_fit"},"mark":{"type":"line","color":"red","strokeWidth":4,"interpolate":"monotone","clip":true},
    "encoding":{
     "x":{"field":"q","type":"quantitative","axis":{"orient":"top","values":[0.15,0.175,0.2,0.225,0.25,0.275,0.3,0.325,0.35,0.375],"labels":false,"title":null,"tickSize":{"condition":{"test":"abs(datum.value*20-round(datum.value*20))<0.001","value":-6},"value":-3}}},
     "y":{"field":"a","type":"quantitative","axis":{"orient":"right","values":[0,0.25,0.5,0.75,1,1.25],"labels":false,"title":null,"tickSize":{"condition":{"test":"abs(datum.value*2-round(datum.value*2))<0.001","value":-6},"value":-3}}}
    }}
  ],
  "resolve":{"axis":{"x":"independent","y":"independent"}}
 },
 {
  "width":264,"height":115,
  "layer":[
   {"data":{"name":"br_pts"},"mark":{"type":"point","filled":false,"opacity":1,"size":175,"strokeWidth":1.8,"color":"black","clip":true},
    "encoding":{
     "x":{"field":"q","type":"quantitative","scale":{"domain":[0.136,0.383],"nice":false,"zero":false},"axis":{"orient":"bottom","values":[0.15,0.2,0.25,0.3,0.35],"format":".2f","labelFontSize":17,"labelPadding":8,"tickSize":-6,"title":"Qz (A⁻¹)","titleFontSize":21,"titlePadding":6}},
     "y":{"field":"a","type":"quantitative","scale":{"domain":[-1.4,0],"nice":false,"zero":false},"axis":{"orient":"right","values":[0,-0.5,-1],"labelExpr":"replace(format(datum.value,'.1f'),'−','-')","labelFontSize":17,"labelPadding":7,"tickSize":-6,"title":null}},
     "shape":{"datum":"Asymmetry Ratio","type":"nominal","scale":{"range":["circle"]},"legend":{"orient":"none","legendX":78,"legendY":94,"title":null,"strokeColor":"black","fillColor":"white","padding":2,"symbolSize":150,"symbolStrokeWidth":1.8,"symbolOffset":19,"labelOffset":16,"labelFontSize":14,"labelColor":"black"}}
    }},
   {"data":{"name":"br_fit"},"mark":{"type":"line","color":"red","strokeWidth":4,"interpolate":"monotone","clip":true},
    "encoding":{
     "x":{"field":"q","type":"quantitative","axis":{"orient":"top","values":[0.15,0.175,0.2,0.225,0.25,0.275,0.3,0.325,0.35,0.375],"labels":false,"title":null,"tickSize":{"condition":{"test":"abs(datum.value*20-round(datum.value*20))<0.001","value":-6},"value":-3}}},
     "y":{"field":"a","type":"quantitative","axis":{"orient":"left","values":[0,-0.25,-0.5,-0.75,-1,-1.25],"labels":false,"title":null,"tickSize":{"condition":{"test":"abs(datum.value*2-round(datum.value*2))<0.001","value":-6},"value":-3}}}
    }}
  ],
  "resolve":{"axis":{"x":"independent","y":"independent"}}
 }
]
}
